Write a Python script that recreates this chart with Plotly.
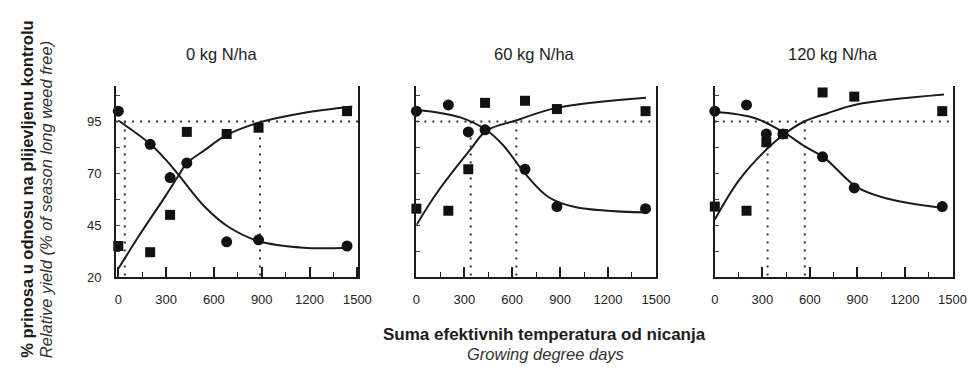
import plotly.graph_objects as go

W, H = 977, 374

# ---------------- data ----------------
panel_titles = ["0 kg N/ha", "60 kg N/ha", "120 kg N/ha"]
gdd = [0, 200, 325, 430, 680, 880, 1435]

# circles (weed-free period series) and squares (weedy period series)
p1_circles = [100, 84, 68, 75, 37, 38, 35]
p1_squares = [35, 32, 50, 90, 89, 92, 100]
p2_circles = [100, 103, 90, 91, 72, 54, 53]
p2_squares = [53, 52, 72, 104, 105, 101, 100]
p3_circles = [100, 103, 89, 89, 78, 63, 54]
p3_squares = [54, 52, 85, 89, 109, 107, 100]

# fitted curves
p1_desc_x = [0, 195, 298, 376, 544, 688, 883, 1160, 1448]
p1_desc_y = [95.5, 84.5, 76.6, 69.5, 53.8, 44.4, 37.3, 34.2, 34.2]
p1_asc_x = [0, 134, 298, 376, 427, 544, 678, 883, 1160, 1468]
p1_asc_y = [24, 40.4, 59.3, 68.7, 74.7, 81.3, 88.4, 94.5, 99.1, 102.2]

p2_desc_x = [0, 275, 439, 542, 685, 829, 993, 1438]
p2_desc_y = [100.7, 97, 90.8, 83.7, 69.5, 58.5, 53.8, 51.1]
p2_asc_x = [0, 131, 336, 439, 624, 884, 1438]
p2_asc_y = [45.1, 60.9, 81.3, 90.6, 95.5, 101.7, 106.5]

p3_desc_x = [0, 255, 440, 564, 688, 894, 1079, 1446]
p3_desc_y = [99.7, 96.6, 89.5, 83.2, 77.7, 63.5, 58, 53.2]
p3_asc_x = [0, 152, 327, 440, 564, 708, 894, 1446]
p3_asc_y = [47.7, 66.6, 81.6, 89, 95, 98.9, 103.2, 108]

threshold = 95
p1_vlines = [41, 889]
p2_vlines = [340, 626]
p3_vlines = [333, 568]

x_ticks = [0, 300, 600, 900, 1200, 1500]
y_ticks = [20, 32.5, 45, 57.5, 70, 82.5, 95, 107.5]
y_ticklabels = ["20", "", "45", "", "70", "", "95", ""]

panels = [
    dict(c=p1_circles, s=p1_squares, dx=p1_desc_x, dy=p1_desc_y, ax=p1_asc_x, ay=p1_asc_y,
         v=p1_vlines, xr=[-14, 1507], dom=[106, 353], title_x=213),
    dict(c=p2_circles, s=p2_squares, dx=p2_desc_x, dy=p2_desc_y, ax=p2_asc_x, ay=p2_asc_y,
         v=p2_vlines, xr=[0, 1500], dom=[412, 656], title_x=532),
    dict(c=p3_circles, s=p3_squares, dx=p3_desc_x, dy=p3_desc_y, ax=p3_asc_x, ay=p3_asc_y,
         v=p3_vlines, xr=[0, 1505], dom=[716, 959], title_x=836),
]

INK = "#1c1c1c"
FONT = "Arial, Liberation Sans, sans-serif"
y_top, y_bot = 80, 275
yr = [20, 20 + (y_bot - y_top) / 2.12]

fig = go.Figure()
layout = dict(
    width=W, height=H, margin=dict(l=0, r=0, t=0, b=0),
    paper_bgcolor="white", plot_bgcolor="white", showlegend=False,
    font=dict(family=FONT, color=INK),
)
annotations = []

for i, p in enumerate(panels):
    n = "" if i == 0 else str(i + 1)
    xa, ya = "x" + n, "y" + n
    dot = dict(color="#333", width=2, dash="2px,6px")
    # horizontal 95% line
    fig.add_trace(go.Scatter(x=p["xr"], y=[threshold, threshold], mode="lines",
                             line=dot, xaxis=xa, yaxis=ya, hoverinfo="skip"))
    for vx in p["v"]:
        fig.add_trace(go.Scatter(x=[vx, vx], y=[threshold, yr[0]], mode="lines",
                                 line=dot, xaxis=xa, yaxis=ya, hoverinfo="skip"))
    # curves
    fig.add_trace(go.Scatter(x=p["dx"], y=p["dy"], mode="lines",
                             line=dict(color=INK, width=2, shape="spline", smoothing=1.0),
                             xaxis=xa, yaxis=ya))
    fig.add_trace(go.Scatter(x=p["ax"], y=p["ay"], mode="lines",
                             line=dict(color=INK, width=2, shape="spline", smoothing=1.0),
                             xaxis=xa, yaxis=ya))
    # markers
    fig.add_trace(go.Scatter(x=gdd, y=p["c"], mode="markers",
                             marker=dict(symbol="circle", size=11, color="#111"),
                             xaxis=xa, yaxis=ya, cliponaxis=False))
    fig.add_trace(go.Scatter(x=gdd, y=p["s"], mode="markers",
                             marker=dict(symbol="square", size=10, color="#111"),
                             xaxis=xa, yaxis=ya, cliponaxis=False))

    layout["xaxis" + n] = dict(
        domain=[p["dom"][0] / W, p["dom"][1] / W], range=p["xr"], anchor=ya,
        showgrid=False, zeroline=False, showline=True, linecolor=INK, linewidth=2,
        tickvals=x_ticks, ticks="inside", ticklen=10, tickwidth=1.5, tickcolor=INK,
        minor=dict(ticks="inside", ticklen=5, tickwidth=1.2, tickcolor=INK,
                   tickvals=[150, 450, 750, 1050, 1350]),
        tickfont=dict(size=13, color="#222", family=FONT), ticklabelstandoff=9,
    )
    layout["yaxis" + n] = dict(
        domain=[1 - y_bot / H, 1 - y_top / H], range=yr, anchor=xa,
        showgrid=False, zeroline=False, showline=True, mirror=True,
        linecolor=INK, linewidth=2,
        tickvals=y_ticks, ticktext=y_ticklabels, ticks="inside", ticklen=4,
        tickwidth=1, tickcolor="#444", showticklabels=(i == 0),
        tickfont=dict(size=13, color="#222", family=FONT), ticklabelstandoff=10,
    )
    annotations.append(dict(text=panel_titles[i], x=p["title_x"] / W, y=1 - 47 / H,
                            xref="paper", yref="paper", showarrow=False,
                            xanchor="center", yanchor="middle",
                            font=dict(size=16.5, color=INK, family=FONT)))

annotations += [
    dict(text="<b>Suma efektivnih temperatura od nicanja</b>", x=543 / W, y=1 - 334 / H,
         xref="paper", yref="paper", showarrow=False, xanchor="center", yanchor="middle",
         font=dict(size=17, color=INK, family=FONT)),
    dict(text="<i>Growing degree days</i>", x=544 / W, y=1 - 354 / H,
         xref="paper", yref="paper", showarrow=False, xanchor="center", yanchor="middle",
         font=dict(size=16.5, color="#333", family=FONT)),
    dict(text="<b>% prinosa u odnosu na plijevljenu kontrolu</b>", x=15 / W, y=1 - 185 / H,
         xref="paper", yref="paper", showarrow=False, xanchor="center", yanchor="middle",
         textangle=-90, font=dict(size=16.5, color=INK, family=FONT)),
    dict(text="<i>Relative yield (% of season long weed free)</i>", x=34 / W, y=1 - 196 / H,
         xref="paper", yref="paper", showarrow=False, xanchor="center", yanchor="middle",
         textangle=-90, font=dict(size=16.5, color="#333", family=FONT)),
]
layout["annotations"] = annotations
fig.update_layout(**layout)
fig.write_html("out.html")
